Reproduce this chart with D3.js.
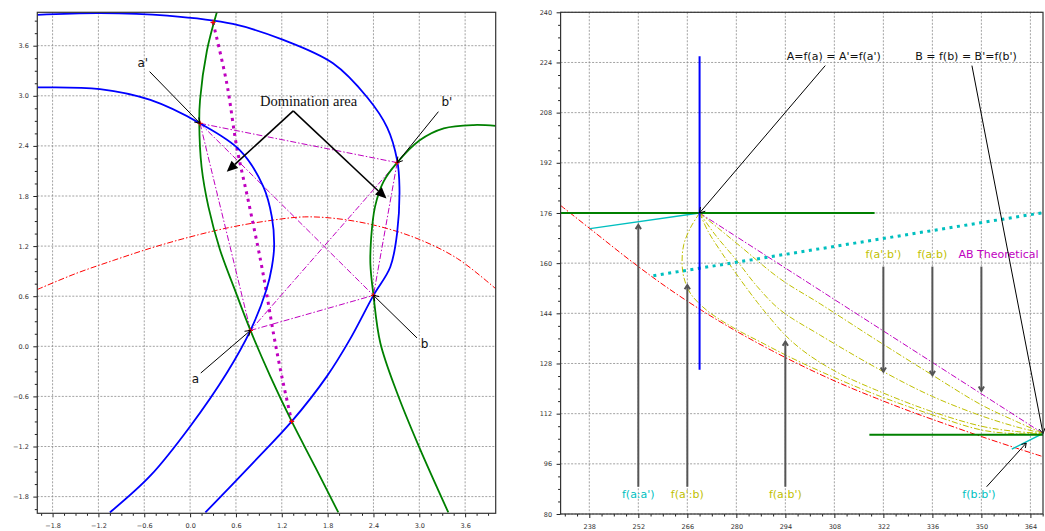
<!DOCTYPE html>
<html><head><meta charset="utf-8">
<script src="https://cdn.jsdelivr.net/npm/d3@7"></script>
<style>body{margin:0;background:#fff}svg{display:block}</style>
</head><body>
<svg id="c" width="1045" height="531"></svg>
<script>
// ---------------- DATA: left panel (decision space) ----------------
const blueOuter = [[-2.0,3.97],[-1.18,3.99],[-0.30,3.96],[0.56,3.86],[1.22,3.67],[1.87,3.39],[2.32,2.98],[2.58,2.62],[2.71,2.23],[2.74,1.91],[2.71,1.36],[2.62,0.95],[2.40,0.61],[2.09,0.08],[1.79,-0.36],[1.33,-0.90],[0.83,-1.39],[0.20,-1.99]];
const blueInner = [[-2.0,3.10],[-1.18,3.08],[-0.52,2.95],[0.13,2.67],[0.65,2.35],[0.96,1.91],[1.07,1.55],[1.10,1.20],[1.07,0.95],[1.00,0.68],[0.79,0.19],[0.48,-0.32],[0.0,-0.96],[-0.52,-1.55],[-1.05,-1.99]];
const greenLeft = [[0.35,4.0],[0.22,3.54],[0.13,2.95],[0.12,2.67],[0.15,2.15],[0.24,1.67],[0.39,1.16],[0.58,0.69],[0.79,0.19],[1.05,-0.36],[1.33,-0.90],[1.64,-1.45],[1.94,-1.99]];
const greenRight = [[4.0,2.64],[3.71,2.65],[3.32,2.61],[3.01,2.47],[2.71,2.20],[2.53,1.97],[2.42,1.67],[2.37,1.30],[2.36,0.98],[2.40,0.61],[2.49,0.04],[2.71,-0.56],[2.99,-1.19],[3.38,-1.99]];
const redLeft = [[-2,0.68],[-1.5,0.87],[-1,1.03],[-0.5,1.18],[0,1.31],[0.5,1.42],[1,1.50],[1.5,1.55],[2,1.52],[2.5,1.43],[3,1.28],[3.5,1.05],[4,0.69]];
const magentaDotted = [[0.30,3.88],[0.48,3.15],[0.61,2.39],[0.76,1.75],[0.92,1.04],[1.00,0.64],[1.09,0.16],[1.20,-0.36],[1.33,-0.90]];
const ptA = [0.79,0.19], ptB = [2.40,0.61], ptA2 = [0.13,2.67], ptB2 = [2.71,2.20];
const quadLines = [[ptA2,ptB2],[ptA2,ptA],[ptA2,ptB],[ptB2,ptA],[ptB2,ptB],[ptA,ptB]];
const redMarks = [ptA,ptB,ptA2,ptB2,[1.33,-0.90],[0.30,3.88]];
const leftTicks = [-1.8,-1.2,-0.6,0.0,0.6,1.2,1.8,2.4,3.0,3.6];

// ---------------- DATA: right panel (objective space) ----------------
const A = [269.5,176.0], B = [367.6,105.7];
const redRight = [[229.8,178.4],[240,169.4],[250,160.6],[260,152.4],[270,145.0],[280,138.3],[290,132.2],[300,126.6],[310,121.5],[320,116.9],[330,112.6],[340,108.6],[350,104.7],[360,101.0],[367.6,98.3]];
const fab = [[269.5,176],[275,171],[281,165.5],[292.5,155],[304,147],[320,135.5],[336,124.3],[350,114.8],[360,109.5],[367.6,105.7]];
const fa2b2 = [[269.5,176],[274,169],[280,161],[286,152.5],[292.5,145.1],[304,137],[322,125.4],[336,117.5],[350,111.3],[360,107.8],[367.6,105.7]];
const fab2 = [[269.5,176],[272,170],[276,163],[281,155],[286,147.5],[290,142],[294,137],[298,133],[303,129],[310,124.5],[320,119.5],[335,113],[350,108],[360,106.3],[367.6,105.7]];
const fa2b = [[269.5,176],[267,171.5],[265,166],[264.5,160],[265,155.5],[266.8,150.5],[271.5,145],[279,139.5],[287,134.8],[295,130.2],[305,125],[320,118],[335,112],[350,106.8],[360,105.6],[367.6,105.7]];
const cyanA = [[238.2,171.0],A], cyanB = [[358.7,100.7],B];
const cyanDotted = [[256.3,156.0],[367.6,176.1]];
const greenA = [[229.8,176.0],[319.5,176.0]], greenB = [[318.0,105.3],[367.6,105.3]];
const blueA = [[269.5,126],[269.5,226]];
const rightXTicks = [238,252,266,280,294,308,322,336,350,364];
const rightYTicks = [80,96,112,128,144,160,176,192,208,224,240];

// ---------------- drawing ----------------
const svg = d3.select("#c");
const defs = svg.append("defs");
const L = {x: d3.scaleLinear([-2,4],[37.3,495.7]), y: d3.scaleLinear([-2,4],[513.3,12.3])};
const R = {x: d3.scaleLinear([229.8,367.6],[560.6,1043]), y: d3.scaleLinear([80,240],[514,12.3])};
const TXT = "DejaVu Sans, sans-serif";

function clip(id, s){
  defs.append("clipPath").attr("id",id).append("rect")
    .attr("x",s.x.range()[0]).attr("y",s.y.range()[1])
    .attr("width",s.x.range()[1]-s.x.range()[0]).attr("height",s.y.range()[0]-s.y.range()[1]);
}
clip("cl",L); clip("cr",R);

function frame(s, xt, yt, xminor, yminor, fmt){
  const g = svg.append("g");
  const [x0,x1]=s.x.range(), [y1,y0]=s.y.range();
  xt.forEach(v=>g.append("line").attr("x1",s.x(v)).attr("x2",s.x(v)).attr("y1",y0).attr("y2",y1)
    .attr("stroke","#8c8c8c").attr("stroke-width",0.8).attr("stroke-dasharray","2,1.5"));
  yt.forEach(v=>g.append("line").attr("y1",s.y(v)).attr("y2",s.y(v)).attr("x1",x0).attr("x2",x1)
    .attr("stroke","#8c8c8c").attr("stroke-width",0.8).attr("stroke-dasharray","2,1.5"));
  const xa = g.append("g").attr("transform",`translate(0,${y1})`)
    .call(d3.axisBottom(s.x).tickValues(xt).tickSize(4).tickFormat(fmt));
  const xm = g.append("g").attr("transform",`translate(0,${y1})`)
    .call(d3.axisBottom(s.x).tickValues(xminor).tickSize(2.5).tickFormat(""));
  const ya = g.append("g").attr("transform",`translate(${x0},0)`)
    .call(d3.axisLeft(s.y).tickValues(yt).tickSize(4).tickFormat(fmt));
  const ym = g.append("g").attr("transform",`translate(${x0},0)`)
    .call(d3.axisLeft(s.y).tickValues(yminor).tickSize(2.5).tickFormat(""));
  [xa,xm,ya,ym].forEach(a=>{a.select(".domain").remove();
    a.selectAll("line").attr("stroke","#222").attr("stroke-width",1);
    a.selectAll("text").attr("font-family",TXT).attr("font-size",6.5).attr("fill","#333");});
  xa.selectAll("text").attr("dy","0").attr("y",14.5);
  ya.selectAll("text").attr("x",-8.5);
  return g;
}
function borders(s){
  const [x0,x1]=s.x.range(), [y1,y0]=s.y.range();
  svg.append("rect").attr("x",x0).attr("y",y0).attr("width",x1-x0).attr("height",y1-y0)
    .attr("fill","none").attr("stroke","#333").attr("stroke-width",1.2);
}
const fmtL = v => d3.format(".1f")(v).replace("-","\u2212");
const minorL = d3.range(-1.95,4.0,0.15).filter(v=>Math.abs(v/0.6-Math.round(v/0.6))>1e-6);
frame(L, leftTicks, leftTicks, minorL, minorL, fmtL);
const minorRX = d3.range(231,368,3.5).filter(v=>(v-238)%14!==0);
const minorRY = d3.range(84,240,4).filter(v=>v%16!==0);
frame(R, rightXTicks, rightYTicks, minorRX, minorRY, d3.format("d"));

function path(g, s, data, color, w, dash, smooth=true){
  const line = d3.line().x(d=>s.x(d[0])).y(d=>s.y(d[1]));
  if(smooth) line.curve(d3.curveCatmullRom.alpha(0.5));
  g.append("path").attr("d",line(data)).attr("fill","none").attr("stroke",color)
    .attr("stroke-width",w).attr("stroke-dasharray",dash||null);
}
function arrow(g, x1,y1,x2,y2, color, w, head, size){
  const ang = Math.atan2(y2-y1,x2-x1);
  if(head==="filled"){
    const bx = x2-size*Math.cos(ang), by = y2-size*Math.sin(ang);
    g.append("line").attr("x1",x1).attr("y1",y1).attr("x2",bx).attr("y2",by).attr("stroke",color).attr("stroke-width",w);
    const hw = size*0.45;
    const p = [[x2,y2],[bx+hw*Math.sin(ang),by-hw*Math.cos(ang)],[bx-hw*Math.sin(ang),by+hw*Math.cos(ang)]];
    g.append("path").attr("d","M"+p.join("L")+"Z").attr("fill",color);
  } else {
    g.append("line").attr("x1",x1).attr("y1",y1).attr("x2",x2).attr("y2",y2).attr("stroke",color).attr("stroke-width",w);
    const a1=ang+Math.PI*0.82, a2=ang-Math.PI*0.82;
    g.append("path").attr("d",`M${x2+size*Math.cos(a1)},${y2+size*Math.sin(a1)}L${x2},${y2}L${x2+size*Math.cos(a2)},${y2+size*Math.sin(a2)}`)
      .attr("fill","none").attr("stroke",color).attr("stroke-width",w);
  }
}

// ---- left panel marks ----
const gl = svg.append("g").attr("clip-path","url(#cl)");
const DASHDOT = "6,2,1.5,2";
path(gl,L,redLeft,"#ff0000",1,DASHDOT);
quadLines.forEach(l=>path(gl,L,l,"#bf00bf",1,DASHDOT,false));
path(gl,L,magentaDotted,"#bf00bf",3,"3,4.5");
path(gl,L,blueOuter,"#0000ff",1.8);
path(gl,L,blueInner,"#0000ff",1.8);
path(gl,L,greenLeft,"#008000",1.8);
path(gl,L,greenRight,"#008000",1.8);
redMarks.forEach(p=>{
  const cx=L.x(p[0]), cy=L.y(p[1]);
  gl.append("path").attr("d",`M${cx-2.5},${cy}H${cx+2.5}M${cx},${cy-2.5}V${cy+2.5}`).attr("stroke","#ff0000").attr("stroke-width",1.2);
});
const ga = svg.append("g");
ga.append("text").attr("x",L.x(0.916)).attr("y",L.y(2.875)).text("Domination area")
  .attr("font-family","Liberation Serif, Times New Roman, serif").attr("font-size",14.5).attr("fill","#111");
arrow(ga,L.x(1.35),L.y(2.82),L.x(0.48),L.y(2.09),"#000",1.6,"filled",11);
arrow(ga,L.x(1.35),L.y(2.82),L.x(2.57),L.y(1.77),"#000",1.6,"filled",11);
const ptLabels = [["a'",-0.69,3.34,-0.53,3.29,ptA2],["b'",3.29,2.875,3.25,2.81,ptB2],["a",0.02,-0.44,0.14,-0.32,ptA],["b",3.02,-0.02,2.97,0.10,ptB]];
ptLabels.forEach(([t,tx,ty,sx,sy,p])=>{
  ga.append("text").attr("x",L.x(tx)).attr("y",L.y(ty)).text(t).attr("font-family",TXT).attr("font-size",12).attr("fill","#111");
  arrow(ga,L.x(sx),L.y(sy),L.x(p[0]),L.y(p[1]),"#000",1,"open",6);
});
borders(L);

// ---- right panel marks ----
const gr = svg.append("g").attr("clip-path","url(#cr)");
path(gr,R,redRight,"#ff0000",1,DASHDOT);
path(gr,R,[A,B],"#bf00bf",1,DASHDOT,false);
[fab,fa2b2,fab2,fa2b].forEach(d=>path(gr,R,d,"#bfbf00",1,DASHDOT));
path(gr,R,cyanA,"#00bfbf",1.4,null,false);
path(gr,R,cyanB,"#00bfbf",1.4,null,false);
path(gr,R,cyanDotted,"#00bfbf",3,"3,4.5",false);
path(gr,R,greenA,"#008000",2,null,false);
path(gr,R,greenB,"#008000",2,null,false);
path(gr,R,blueA,"#0000ff",2,null,false);

const gb = svg.append("g");
const bottomLabels = [["f(a:a')","#00bfbf",252,172.2],["f(a':b)","#bfbf00",266,153.0],["f(a:b')","#bfbf00",294,135.0]];
bottomLabels.forEach(([t,c,x,tip])=>{
  arrow(gb,R.x(x),R.y(88.7),R.x(x),R.y(tip),"#555",2,"open",5);
  gb.append("text").attr("x",R.x(x)).attr("y",R.y(85.0)).attr("text-anchor","middle").text(t)
    .attr("font-family",TXT).attr("font-size",11).attr("fill",c);
});
const topLabels = [["f(a':b')","#bfbf00",322,322,125.4],["f(a:b)","#bfbf00",336,336,124.3],["AB Theoretical","#bf00bf",354.9,350,119.3]];
topLabels.forEach(([t,c,tx,x,tip])=>{
  arrow(gb,R.x(x),R.y(158.9),R.x(x),R.y(tip),"#555",2,"open",5);
  gb.append("text").attr("x",R.x(tx)).attr("y",R.y(161.5)).attr("text-anchor","middle").text(t)
    .attr("font-family",TXT).attr("font-size",11).attr("fill",c);
});
gb.append("text").attr("x",R.x(349.3)).attr("y",R.y(85.0)).attr("text-anchor","middle").text("f(b:b')")
  .attr("font-family",TXT).attr("font-size",11).attr("fill","#00bfbf");
arrow(gb,R.x(351.5),R.y(88.7),R.x(362.8),R.y(102.6),"#000",1,"open",5);
gb.append("text").attr("x",R.x(294.4)).attr("y",R.y(224.8)).text("A=f(a) = A'=f(a')")
  .attr("font-family",TXT).attr("font-size",11).attr("fill","#111");
gb.append("text").attr("x",R.x(331.1)).attr("y",R.y(224.8)).text("B = f(b) = B'=f(b')")
  .attr("font-family",TXT).attr("font-size",11).attr("fill","#111");
arrow(gb,R.x(305.4),R.y(223.0),R.x(A[0]),R.y(A[1]),"#000",1,"open",6);
arrow(gb,R.x(347.3),R.y(223.0),R.x(B[0]),R.y(B[1]),"#000",1,"open",6);
borders(R);
</script>
</body></html>
